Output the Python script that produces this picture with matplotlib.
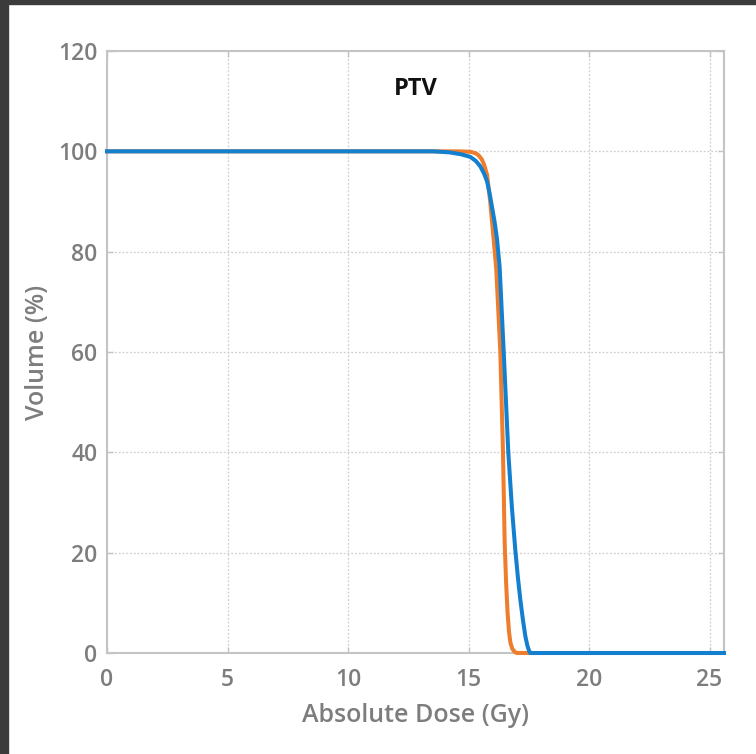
import matplotlib
matplotlib.use('Agg')
import matplotlib.pyplot as plt
from matplotlib.patches import Rectangle

plt.rcParams['font.family'] = ['Open Sans', 'DejaVu Sans']

# dose volume histogram, PTV
dose_orange = [0, 14.6, 15.1, 15.3, 15.42, 15.55, 15.65, 15.77, 15.9, 16.04, 16.15, 16.32, 16.43,
               16.5, 16.56, 16.62, 16.68, 16.74, 16.82, 16.92, 17.01, 25.6]
vol_orange = [100, 100, 99.9, 99.6, 99.2, 98.4, 97.3, 95.3, 90, 82.6, 76.6, 60, 40,
              22, 14, 8, 4.2, 2.0, 0.8, 0.2, 0, 0]

dose_blue = [0, 13.5, 14.2, 14.7, 15.07, 15.3, 15.49, 15.65, 15.77, 15.88, 15.97, 16.08, 16.18, 16.29,
             16.46, 16.65, 16.8, 16.94, 17.05, 17.15, 17.26, 17.36, 17.44, 17.5, 17.56, 25.6]
vol_blue = [100, 100, 99.8, 99.4, 98.9, 98.1, 97.0, 95.5, 94, 91.5, 89, 86, 82.6, 77,
            60, 40, 29, 20.6, 15, 10.6, 6.5, 3.3, 1.5, 0.6, 0, 0]

xticks = [0, 5, 10, 15, 20, 25]
yticks = [0, 20, 40, 60, 80, 100, 120]

fig = plt.figure(figsize=(7.56, 7.54), dpi=100)
ax = fig.add_axes([107/756, 1-653/754, (724-107)/756, (653-51)/754])

ax.plot(dose_orange, vol_orange, color='#EE7D2D', lw=2.9, clip_on=False, zorder=3)
ax.plot(dose_blue, vol_blue, color='#1380CF', lw=2.9, clip_on=False, zorder=4)

ax.set_xlim(0, 25.6)
ax.set_ylim(0, 120)
ax.set_xticks(xticks)
ax.set_yticks(yticks)
ax.grid(True, color='#cfcfcf', ls=(0, (1.5, 1.5)), lw=0.9)
for s in ax.spines.values():
    s.set_color('#c4c4c4')
    s.set_linewidth(1.5)
ax.tick_params(direction='in', length=4, width=1, color='#c4c4c4',
               top=True, right=True, labelsize=16.5, labelcolor='#7d7d7d', pad=7)
ax.tick_params(axis='x', pad=11)
for lab in ax.get_xticklabels() + ax.get_yticklabels():
    lab.set_fontweight('semibold')

ax.set_xlabel('Absolute Dose (Gy)', fontsize=18, color='#7d7d7d', fontweight='semibold', labelpad=8)
ax.set_ylabel('Volume (%)', fontsize=18, color='#7d7d7d', fontweight='semibold', labelpad=6)
ax.text(12.8, 112.5, 'PTV', fontsize=17, fontweight='bold', color='#111111', ha='center', va='center')

# dark screenshot edge
fig.patches.append(Rectangle((0, 0), 8/756, 1, transform=fig.transFigure, color='#3b3b3b', zorder=10))
fig.patches.append(Rectangle((0, 1-4/754), 1, 4/754, transform=fig.transFigure, color='#3b3b3b', zorder=10))

fig.savefig('out.png', dpi=100)
